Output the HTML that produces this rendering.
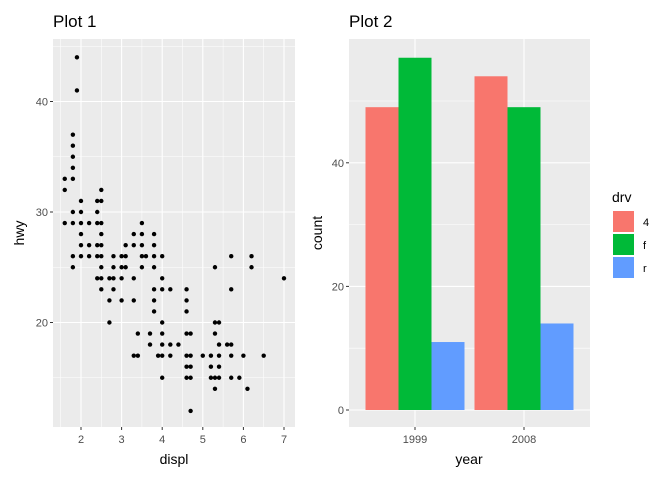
<!DOCTYPE html>
<html><head><meta charset="utf-8"><style>
body{margin:0;background:#fff}
svg text{font-family:"Liberation Sans",sans-serif}
</style></head><body>
<svg id="s" width="672" height="480" xmlns="http://www.w3.org/2000/svg"></svg>
<script>
const pairs = {
44:[1.9],41:[1.9],37:[1.8],36:[1.8],35:[1.8],34:[1.8],33:[1.6,1.8],32:[1.6,2.5],31:[2.0,2.4,2.5],
30:[1.8,2.0,2.4],29:[1.6,1.8,2.0,2.2,2.4,2.5,3.5],28:[2.0,2.5,3.3,3.5,3.8],
27:[2.0,2.2,2.4,2.5,3.1,3.3,3.5,3.8],26:[1.8,2.0,2.2,2.4,2.5,2.8,3.0,3.1,3.5,3.6,3.8,4.0,5.7,6.2],
25:[1.8,2.5,2.8,3.0,3.1,3.5,3.8,5.3,6.2],24:[2.4,2.5,2.7,2.8,3.0,3.3,4.0,7.0],
23:[2.5,2.8,3.8,4.0,4.2,4.6,5.7],22:[2.7,3.0,3.3,3.8,4.6],21:[3.8,4.6],20:[2.7,4.0,5.3,5.4],
19:[3.4,3.7,4.0,4.6,4.7,5.3],18:[3.7,4.0,4.2,4.4,5.4,5.6,5.7],
17:[3.3,3.4,3.9,4.0,4.2,4.6,4.7,5.0,5.2,5.4,5.7,6.0,6.5],16:[4.6,4.7,5.2,5.4],
15:[4.0,4.6,4.7,5.2,5.3,5.4,5.7,5.9],14:[5.3,6.1],12:[4.7]};
const xTicks1=[2,3,4,5,6,7], yTicks1=[20,30,40];
const years=["1999","2008"], drvs=["4","f","r"];
const counts4=[49,54], countsF=[57,49], countsR=[11,14];
const yTicks2=[0,20,40];
const colors=["#F8766D","#00BA38","#619CFF"];

const s=document.getElementById('s'), NS="http://www.w3.org/2000/svg";
function el(t,a,p){const e=document.createElementNS(NS,t);for(const k in a)e.setAttribute(k,a[k]);(p||s).appendChild(e);return e;}
function txt(str,a){const e=el('text',a);e.textContent=str;return e;}

// Plot 1
const X1=v=>81+(v-2)*40.6, Y1=v=>101.5-(v-40)*11.05;
const p1=el('g',{});


el('rect',{x:53,y:39,width:242,height:388,fill:'#ebebeb'},p1);
for(let v=1.5;v<=6.5;v++)el('line',{x1:X1(v),x2:X1(v),y1:39,y2:427,stroke:'#fff','stroke-width':0.55},p1);
for(const v of [15,25,35,45])el('line',{x1:53,x2:295,y1:Y1(v),y2:Y1(v),stroke:'#fff','stroke-width':0.55},p1);
xTicks1.forEach(v=>{el('line',{x1:X1(v),x2:X1(v),y1:39,y2:427,stroke:'#fff','stroke-width':1.1},p1);
 el('line',{x1:X1(v),x2:X1(v),y1:427,y2:430,stroke:'#333'},p1);
 const t=txt(v,{x:X1(v),y:443,'text-anchor':'middle','font-size':11,fill:'#4d4d4d'});
 });
yTicks1.forEach(v=>{el('line',{x1:53,x2:295,y1:Y1(v),y2:Y1(v),stroke:'#fff','stroke-width':1.1},p1);
 el('line',{x1:50,x2:53,y1:Y1(v),y2:Y1(v),stroke:'#333'},p1);
 const t=txt(v,{x:48,y:Y1(v)+4,'text-anchor':'end','font-size':11,fill:'#4d4d4d'});
 });
for(const h in pairs)pairs[h].forEach(d=>{const c=el('circle',{cx:X1(d),cy:Y1(+h),r:2.2,fill:'#000'},p1);
 });
let t=txt('Plot 1',{x:53,y:27,'font-size':17,fill:'#000'});
t=txt('displ',{x:174,y:464,'text-anchor':'middle','font-size':14,fill:'#000'});
t=txt('hwy',{x:0,y:0,'text-anchor':'middle','font-size':14,fill:'#000',transform:'translate(24,233) rotate(-90)'});

// Plot 2
const Y2=v=>410-v*6.18, X2=[415,524], bw=33;
const p2=el('g',{});


el('rect',{x:349,y:39,width:241,height:388,fill:'#ebebeb'},p2);
for(const v of [10,30,50])el('line',{x1:349,x2:590,y1:Y2(v),y2:Y2(v),stroke:'#fff','stroke-width':0.55},p2);
yTicks2.forEach(v=>{el('line',{x1:349,x2:590,y1:Y2(v),y2:Y2(v),stroke:'#fff','stroke-width':1.1},p2);
 el('line',{x1:346,x2:349,y1:Y2(v),y2:Y2(v),stroke:'#333'},p2);
 const t=txt(v,{x:344,y:Y2(v)+4,'text-anchor':'end','font-size':11,fill:'#4d4d4d'});
 });
years.forEach((y,i)=>{el('line',{x1:X2[i],x2:X2[i],y1:39,y2:427,stroke:'#fff','stroke-width':1.1},p2);
 el('line',{x1:X2[i],x2:X2[i],y1:427,y2:430,stroke:'#333'},p2);
 const t=txt(y,{x:X2[i],y:443,'text-anchor':'middle','font-size':11,fill:'#4d4d4d'});
 });
[counts4,countsF,countsR].forEach((arr,k)=>arr.forEach((v,i)=>{
 const r=el('rect',{x:X2[i]-1.5*bw+k*bw,y:Y2(v),width:bw,height:Y2(0)-Y2(v),fill:colors[k]},p2);
 }));
t=txt('Plot 2',{x:349,y:27,'font-size':17,fill:'#000'});
t=txt('year',{x:469,y:464,'text-anchor':'middle','font-size':14,fill:'#000'});
t=txt('count',{x:0,y:0,'text-anchor':'middle','font-size':14,fill:'#000',transform:'translate(322,233) rotate(-90)'});

// Legend
t=txt('drv',{x:612,y:202,'font-size':14,fill:'#000'});
drvs.forEach((d,k)=>{const g=el('g',{});
 
 el('rect',{x:612.5,y:210.5+k*23,width:22,height:22,fill:colors[k],stroke:'#fff','stroke-width':1},g);
 const l=el('text',{x:643,y:226+k*23,'font-size':11,fill:'#000'},g);l.textContent=d;});
</script>
</body></html>
